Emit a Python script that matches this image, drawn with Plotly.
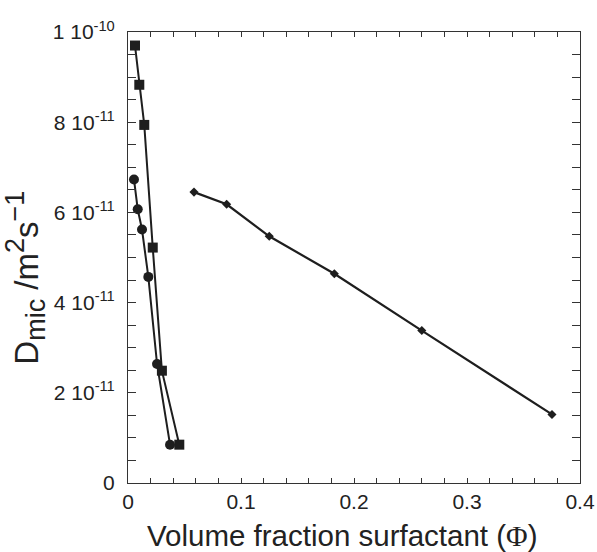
import plotly.graph_objects as go

# Data (volume fraction, D_mic in m^2/s)
sq_x = [0.0062, 0.0100, 0.0144, 0.0219, 0.0300, 0.0454]
sq_y = [9.70e-11, 8.83e-11, 7.94e-11, 5.22e-11, 2.49e-11, 0.85e-11]

ci_x = [0.0053, 0.0086, 0.0124, 0.0180, 0.0257, 0.0372]
ci_y = [6.73e-11, 6.07e-11, 5.62e-11, 4.57e-11, 2.64e-11, 0.85e-11]

di_x = [0.0584, 0.0873, 0.1250, 0.1826, 0.2600, 0.3752]
di_y = [6.45e-11, 6.18e-11, 5.47e-11, 4.64e-11, 3.38e-11, 1.52e-11]

x_tickvals = [0, 0.1, 0.2, 0.3, 0.4]
x_ticktext = ["0", "0.1", "0.2", "0.3", "0.4"]
y_tickvals = [0, 2e-11, 4e-11, 6e-11, 8e-11, 1e-10]
y_ticktext = ["0", "2 10<sup>-11</sup>", "4 10<sup>-11</sup>", "6 10<sup>-11</sup>",
              "8 10<sup>-11</sup>", "1 10<sup>-10</sup>"]

x_title = "Volume fraction surfactant (<span style=\"font-family:'Liberation Serif'\">Φ</span>)"
y_title = ("D<sub><span style='font-size:27px'>mic</span></sub> /m"
           "<sup><span style='font-size:27px'>2</span></sup>s"
           "<sup><span style='font-size:27px'>−1</span></sup>")

ink = "#1e1e1e"
fig = go.Figure()
fig.add_trace(go.Scatter(x=sq_x, y=sq_y, mode="lines+markers",
                         line=dict(color=ink, width=2),
                         marker=dict(symbol="square", size=10, color=ink)))
fig.add_trace(go.Scatter(x=ci_x, y=ci_y, mode="lines+markers",
                         line=dict(color=ink, width=2),
                         marker=dict(symbol="circle", size=10, color=ink)))
fig.add_trace(go.Scatter(x=di_x, y=di_y, mode="lines+markers",
                         line=dict(color=ink, width=2.2),
                         marker=dict(symbol="diamond", size=7, color=ink)))

fig.update_layout(
    width=597, height=552, autosize=False,
    margin=dict(l=128, r=17, t=32, b=69),
    paper_bgcolor="white", plot_bgcolor="white",
    showlegend=False,
    font=dict(family="Liberation Sans, Arial, sans-serif", color="#222"),
    xaxis=dict(range=[0, 0.4], tickmode="array", tickvals=x_tickvals, ticktext=x_ticktext,
               ticks="inside", ticklen=5, tickcolor="#333", showline=True, linecolor="#333",
               linewidth=1, mirror="ticks", showgrid=False, zeroline=False, automargin=False,
               minor=dict(tickmode="linear", tick0=0, dtick=0.02, ticks="inside",
                          ticklen=5, tickcolor="#333", showgrid=False),
               tickfont=dict(size=21)),
    yaxis=dict(range=[0, 1.0e-10], tickmode="array", tickvals=y_tickvals, ticktext=y_ticktext,
               ticks="inside", ticklen=8, tickcolor="#333", showline=True, linecolor="#333",
               linewidth=1, mirror="ticks", showgrid=False, zeroline=False, automargin=False,
               minor=dict(tickmode="linear", tick0=0, dtick=0.5e-11, ticks="inside",
                          ticklen=8, tickcolor="#333", showgrid=False),
               ticklabelstandoff=8,
               tickfont=dict(size=21)),
    annotations=[
        dict(text=x_title, xref="paper", yref="paper", x=0.4746, y=-0.116,
             xanchor="center", yanchor="middle", showarrow=False,
             font=dict(size=29.5, color="#222")),
        dict(text=y_title, xref="paper", yref="paper", x=-0.226, y=0.455,
             xanchor="center", yanchor="middle", showarrow=False, textangle=-90,
             font=dict(size=33, color="#222")),
    ],
)

fig.write_html("out.html",
               config={"responsive": False, "displayModeBar": False},
               post_script="document.body.style.margin='0px';")
